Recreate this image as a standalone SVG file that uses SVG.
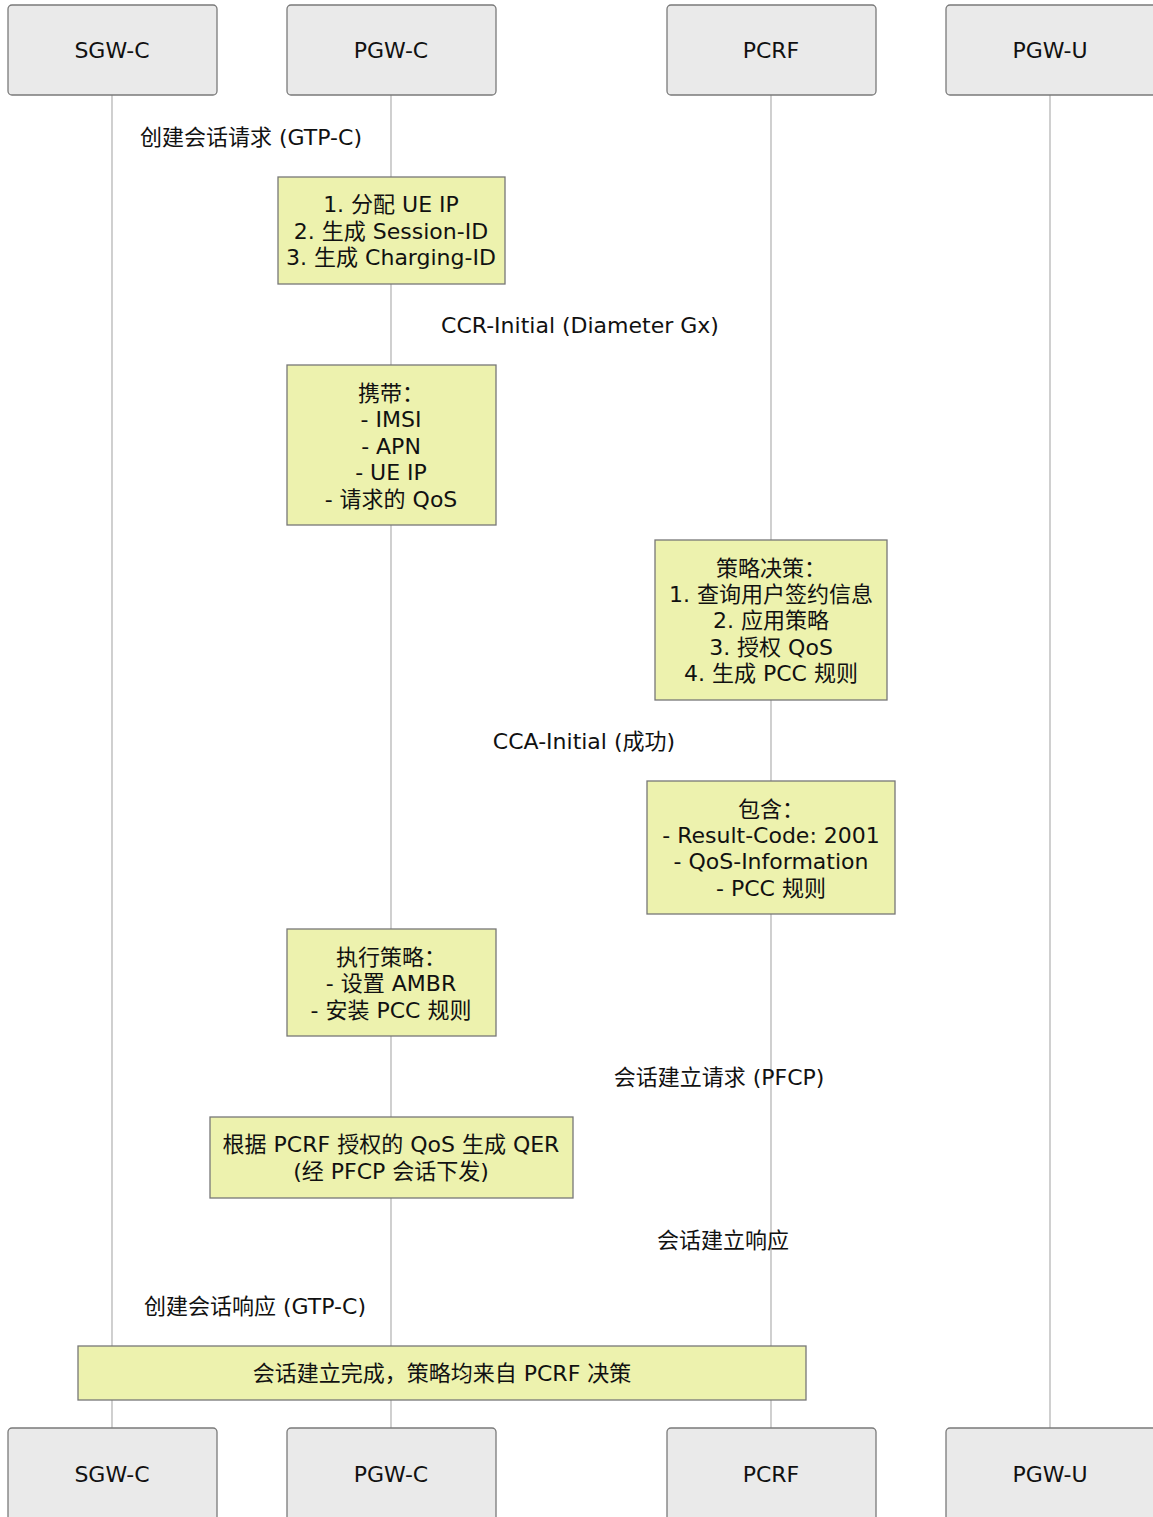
<svg xmlns="http://www.w3.org/2000/svg" width="1153" height="1517" viewBox="0 0 1153 1517">
<style>
text{font-family:"DejaVu Sans","Noto Sans CJK SC",sans-serif;font-size:22px;fill:#111;text-anchor:middle;dominant-baseline:central}
.part{fill:#eaeaea;stroke:#7a7a7a;stroke-width:1.3}
.note{fill:#edf2ae;stroke:#777;stroke-width:1.3}
.life{stroke:#b0b0b0;stroke-width:1.2}
</style>
<rect width="1153" height="1517" fill="#fff"/>
<g id="lifelines">
<line class="life" x1="112" y1="95" x2="112" y2="1428"/>
<line class="life" x1="391" y1="95" x2="391" y2="1428"/>
<line class="life" x1="771" y1="95" x2="771" y2="1428"/>
<line class="life" x1="1050" y1="95" x2="1050" y2="1428"/>
</g>
<g id="participants-top">
<g id="sgwc-top"><rect class="part" x="8" y="5" width="209" height="90" rx="4"/><text x="112" y="50">SGW-C</text></g>
<g id="pgwc-top"><rect class="part" x="287" y="5" width="209" height="90" rx="4"/><text x="391" y="50">PGW-C</text></g>
<g id="pcrf-top"><rect class="part" x="667" y="5" width="209" height="90" rx="4"/><text x="771" y="50">PCRF</text></g>
<g id="pgwu-top"><rect class="part" x="946" y="5" width="212" height="90" rx="4"/><text x="1050" y="50">PGW-U</text></g>
</g>
<g id="participants-bottom">
<g id="sgwc-bottom"><rect class="part" x="8" y="1428" width="209" height="95" rx="4"/><text x="112" y="1474">SGW-C</text></g>
<g id="pgwc-bottom"><rect class="part" x="287" y="1428" width="209" height="95" rx="4"/><text x="391" y="1474">PGW-C</text></g>
<g id="pcrf-bottom"><rect class="part" x="667" y="1428" width="209" height="95" rx="4"/><text x="771" y="1474">PCRF</text></g>
<g id="pgwu-bottom"><rect class="part" x="946" y="1428" width="212" height="95" rx="4"/><text x="1050" y="1474">PGW-U</text></g>
</g>
<g id="messages">
<text id="m1" x="251" y="137">创建会话请求 (GTP-C)</text>
<text id="m2" x="580" y="325">CCR-Initial (Diameter Gx)</text>
<text id="m3" x="584" y="741">CCA-Initial (成功)</text>
<text id="m4" x="719" y="1077">会话建立请求 (PFCP)</text>
<text id="m5" x="723" y="1240">会话建立响应</text>
<text id="m6" x="255" y="1306">创建会话响应 (GTP-C)</text>
</g>
<g id="note1"><rect class="note" x="278" y="177" width="227" height="107"/>
<text x="391" y="204">1. 分配 UE IP</text><text x="391" y="231">2. 生成 Session-ID</text><text x="391" y="257">3. 生成 Charging-ID</text></g>
<g id="note2"><rect class="note" x="287" y="365" width="209" height="160"/>
<text x="391" y="393">携带：</text><text x="391" y="419">- IMSI</text><text x="391" y="446">- APN</text><text x="391" y="472">- UE IP</text><text x="391" y="499">- 请求的 QoS</text></g>
<g id="note3"><rect class="note" x="655" y="540" width="232" height="160"/>
<text x="771" y="568">策略决策：</text><text x="771" y="594">1. 查询用户签约信息</text><text x="771" y="620">2. 应用策略</text><text x="771" y="647">3. 授权 QoS</text><text x="771" y="673">4. 生成 PCC 规则</text></g>
<g id="note4"><rect class="note" x="647" y="781" width="248" height="133"/>
<text x="771" y="809">包含：</text><text x="771" y="835">- Result-Code: 2001</text><text x="771" y="861">- QoS-Information</text><text x="771" y="888">- PCC 规则</text></g>
<g id="note5"><rect class="note" x="287" y="929" width="209" height="107"/>
<text x="391" y="957">执行策略：</text><text x="391" y="983">- 设置 AMBR</text><text x="391" y="1010">- 安装 PCC 规则</text></g>
<g id="note6"><rect class="note" x="210" y="1117" width="363" height="81"/>
<text x="391" y="1144">根据 PCRF 授权的 QoS 生成 QER</text><text x="391" y="1171">(经 PFCP 会话下发)</text></g>
<g id="note7"><rect class="note" x="78" y="1346" width="728" height="54"/>
<text x="442" y="1373">会话建立完成，策略均来自 PCRF 决策</text></g>
</svg>
